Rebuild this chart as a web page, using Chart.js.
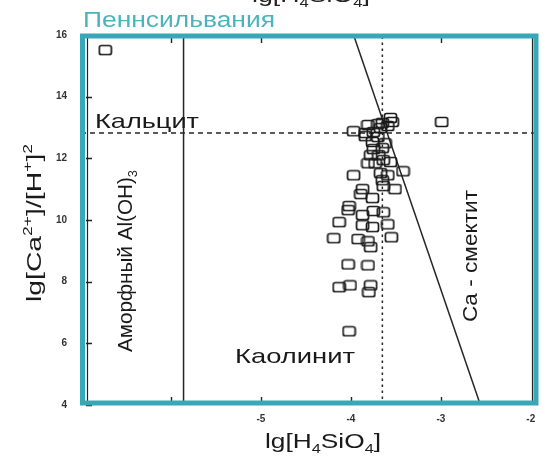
<!DOCTYPE html>
<html><head><meta charset="utf-8">
<script src="https://cdn.jsdelivr.net/npm/chart.js@4/dist/chart.umd.min.js"></script>
<style>html,body{margin:0;padding:0;background:#fff}#wrap{width:545px;height:459px;position:relative}</style>
</head><body><div id="wrap"><canvas id="c" width="545" height="459"></canvas></div>
<script>
// ---- data ----
const sampleX = [-6.73,-3.54,-2.99,-3.97,-3.81,-3.70,-3.84,-3.75,-3.67,-3.59,-3.84,-3.70,-3.76,-3.75,-3.65,-3.78,-3.69,-3.81,-3.73,-3.64,-3.56,-3.42,-3.97,-3.67,-3.59,-3.65,-3.64,-3.51,-3.87,-3.89,-3.76,-4.02,-4.03,-4.13,-3.87,-3.75,-3.64,-3.87,-3.76,-3.59,-4.19,-3.92,-3.81,-3.55,-3.78,-4.03,-3.81,-4.13,-4.01,-3.78,-3.80,-4.02,-3.56,-3.65,-3.62];
const sampleY = [15.51,13.18,13.18,12.88,13.08,13.11,12.82,12.85,12.98,13.05,12.72,12.69,12.53,12.30,12.33,12.10,12.10,11.84,11.84,11.94,11.88,11.58,11.45,11.52,11.45,11.29,11.10,11.00,11.00,10.84,10.71,10.45,10.32,9.93,10.16,10.29,10.25,9.83,9.77,9.86,9.41,9.38,9.31,9.44,9.12,8.56,8.53,7.82,7.88,7.88,7.66,6.39,13.31,13.15,12.49];
const calciteX = [-7, -1.92];
const calciteY = [12.82, 12.82];
const gibbsiteX = [-5.86, -5.86];
const gibbsiteY = [4, 16];
const silicaX = [-3.65, -3.65];
const silicaY = [4, 16];
const smectiteX = [-3.97, -2.56];
const smectiteY = [16, 4];
const xTickValues = [-5, -4, -3, -2];
const xTickLabels = ['-5', '-4', '-3', '-2'];
const yTickValues = [4, 6, 8, 10, 12, 14, 16];
const minorTickX = [-6, -5, -4, -3];
const titleText = 'Пеннсильвания';

const zip = (xs, ys) => xs.map((x, i) => ({x, y: ys[i]}));

// marker: open rounded rectangle
const mk = document.createElement('canvas');
mk.width = 15; mk.height = 12;
(function(){
  const g = mk.getContext('2d');
  g.strokeStyle = '#1a1a1a'; g.lineWidth = 1.7;
  const x=1.5,y=1.5,w=12,h=9,r=2;
  g.beginPath();
  g.moveTo(x+r,y); g.lineTo(x+w-r,y); g.quadraticCurveTo(x+w,y,x+w,y+r);
  g.lineTo(x+w,y+h-r); g.quadraticCurveTo(x+w,y+h,x+w-r,y+h);
  g.lineTo(x+r,y+h); g.quadraticCurveTo(x,y+h,x,y+h-r);
  g.lineTo(x,y+r); g.quadraticCurveTo(x,y,x+r,y); g.closePath(); g.stroke();
})();

const FONT = '"Liberation Sans", Arial, sans-serif';

// rich text: segments [text, kind] kind: 0 normal, 1 sup, -1 sub
function richWidth(ctx, segs, fs) {
  let w = 0;
  for (const [t, k] of segs) { ctx.font = (k ? fs*0.62 : fs) + 'px ' + FONT; w += ctx.measureText(t).width; }
  return w;
}
function drawRich(ctx, segs, fs, x, y, targetW, color, rot) {
  ctx.save();
  ctx.translate(x, y);
  if (rot) ctx.rotate(rot);
  const w = richWidth(ctx, segs, fs);
  const sx = targetW ? targetW / w : 1;
  ctx.scale(sx, 1);
  ctx.fillStyle = color;
  ctx.textBaseline = 'alphabetic';
  ctx.textAlign = 'left';
  let cx = 0;
  for (const [t, k] of segs) {
    ctx.font = (k ? fs*0.62 : fs) + 'px ' + FONT;
    const dy = k === 1 ? -fs*0.42 : (k === -1 ? fs*0.22 : 0);
    ctx.fillText(t, cx, dy);
    cx += ctx.measureText(t).width;
  }
  ctx.restore();
}

const decor = {
  id: 'decor',
  afterDraw(chart) {
    const ctx = chart.ctx, a = chart.chartArea;
    const xs = chart.scales.x, ys = chart.scales.y;
    ctx.save();
    // inner ticks
    ctx.strokeStyle = '#222'; ctx.lineWidth = 1.4;
    ctx.beginPath();
    for (const v of yTickValues) {
      const py = Math.round(ys.getPixelForValue(v)) + 0.5;
      ctx.moveTo(a.left + 5, py); ctx.lineTo(a.left + 11, py);
    }
    for (const v of minorTickX) {
      const px = Math.round(xs.getPixelForValue(v)) + 0.5;
      ctx.moveTo(px, a.bottom - 3); ctx.lineTo(px, a.bottom - 8);
      if (v !== -4) { ctx.moveTo(px, a.top + 3); ctx.lineTo(px, a.top + 8); }
    }
    ctx.stroke();
    // thin original axis lines inside the frame
    ctx.lineWidth = 1.2;
    ctx.beginPath();
    ctx.moveTo(a.left + 6.5, a.top + 3); ctx.lineTo(a.left + 6.5, a.bottom - 3);
    ctx.moveTo(a.right - 5.5, a.top + 3); ctx.lineTo(a.right - 5.5, a.bottom - 3);
    ctx.stroke();
    // teal frame
    ctx.strokeStyle = '#38a8b8'; ctx.lineWidth = 5;
    ctx.strokeRect(a.left + 1.5, a.top + 1, a.right - a.left - 3.5, a.bottom - a.top - 3);
    ctx.restore();

    // texts
    drawRich(ctx, [[titleText, 0]], 22, 83, 27, 192, '#4ab3bd', 0);
    drawRich(ctx, [['lg[H', 0], ['4', -1], ['SiO', 0], ['4', -1], [']', 0]], 21, 252, 2, 118, '#222', 0);
    drawRich(ctx, [['Кальцит', 0]], 21, 95, 128, 104, '#1a1a1a', 0);
    drawRich(ctx, [['Каолинит', 0]], 21, 235, 363, 120, '#1a1a1a', 0);
    drawRich(ctx, [['Аморфный Al(OH)', 0], ['3', -1]], 21, 132, 352, 182, '#1a1a1a', -Math.PI/2);
    drawRich(ctx, [['Ca - смектит', 0]], 21, 477, 322, 132, '#1a1a1a', -Math.PI/2);
    drawRich(ctx, [['lg[Ca', 0], ['2+', 1], [']/[H', 0], ['+', 1], [']', 0], ['2', 1]], 21, 41, 302, 158, '#1a1a1a', -Math.PI/2);
    drawRich(ctx, [['lg[H', 0], ['4', -1], ['SiO', 0], ['4', -1], [']', 0]], 21, 265, 448, 116, '#1a1a1a', 0);
  }
};

const lineDs = (label, xs, ys, dash) => ({
  label, data: zip(xs, ys), showLine: true, pointRadius: 0, borderColor: '#262626',
  borderWidth: 1.5, borderDash: dash, fill: false, order: 2
});

new Chart(document.getElementById('c'), {
  type: 'scatter',
  data: {
    datasets: [
      { label: 'samples', data: zip(sampleX, sampleY), pointStyle: mk, pointRadius: 6, order: 1 },
      lineDs('calcite', calciteX, calciteY, [5, 4]),
      lineDs('gibbsite', gibbsiteX, gibbsiteY, []),
      lineDs('silica', silicaX, silicaY, [2.5, 3.5]),
      lineDs('smectite', smectiteX, smectiteY, [])
    ]
  },
  options: {
    responsive: false, animation: false, devicePixelRatio: 1,
    layout: { padding: { top: 35, right: 4, bottom: 0, left: 0 } },
    plugins: { legend: { display: false }, tooltip: { enabled: false }, title: { display: false } },
    scales: {
      x: {
        type: 'linear', min: -7, max: -1.92,
        grid: { display: false, drawTicks: false }, border: { display: false },
        afterBuildTicks: s => { s.ticks = xTickValues.map(v => ({ value: v })); },
        afterFit: s => { s.height = 54; },
        ticks: {
          autoSkip: false, maxRotation: 0, padding: 8, color: '#333',
          font: { family: FONT, size: 10, weight: 'bold' },
          callback: v => { const i = xTickValues.indexOf(v); return i >= 0 ? xTickLabels[i] : ''; }
        }
      },
      y: {
        type: 'linear', min: 4, max: 16,
        grid: { display: false, drawTicks: false }, border: { display: false },
        afterBuildTicks: s => { s.ticks = yTickValues.map(v => ({ value: v })); },
        afterFit: s => { s.width = 81; },
        ticks: { padding: 14, color: '#333', font: { family: FONT, size: 10, weight: 'bold' } }
      }
    }
  },
  plugins: [decor]
});
</script></body></html>
